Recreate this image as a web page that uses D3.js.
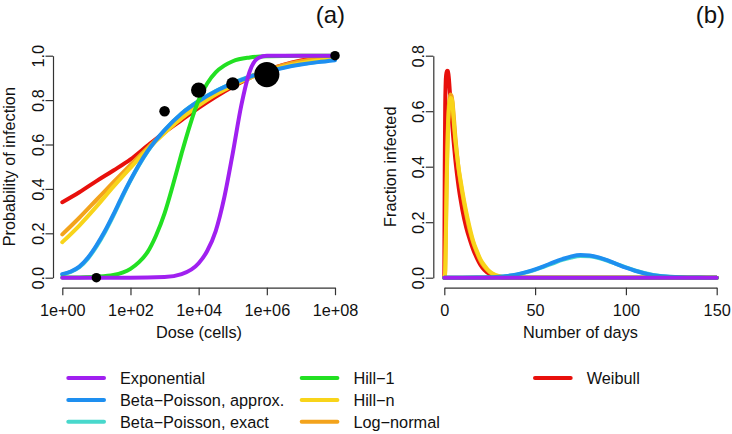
<!DOCTYPE html>
<html>
<head>
<meta charset="utf-8">
<script src="https://cdn.jsdelivr.net/npm/d3@7"></script>
<style>
  body { margin: 0; background: #fff; }
  svg { display: block; font-family: "Liberation Sans", Arial, sans-serif; }
</style>
</head>
<body>
<div id="chart"></div>
<script>
// ---- data, panel (a): probability of infection vs log10(dose) ----
var doseTicks = [1, 1e2, 1e4, 1e6, 1e8];
var doseTickLabels = ["1e+00", "1e+02", "1e+04", "1e+06", "1e+08"];
var probTicks = [0, 0.2, 0.4, 0.6, 0.8, 1.0];

var logDoseHalf = [0, 0.5, 1, 1.5, 2, 2.5, 3, 3.5, 4, 4.5, 5, 5.5, 6, 6.5, 7, 7.5, 8];
var weibullA = [0.34, 0.385, 0.435, 0.483, 0.533, 0.595, 0.655, 0.71, 0.765, 0.815, 0.86, 0.9, 0.935, 0.96, 0.978, 0.99, 0.995];
var lognormA = [0.195, 0.27, 0.35, 0.43, 0.508, 0.585, 0.655, 0.72, 0.778, 0.828, 0.87, 0.905, 0.935, 0.958, 0.975, 0.987, 0.993];
var hillnA = [0.16, 0.235, 0.32, 0.41, 0.495, 0.578, 0.652, 0.718, 0.775, 0.825, 0.865, 0.9, 0.928, 0.95, 0.966, 0.978, 0.986];

var logDoseBP = [0, 0.25, 0.5, 0.75, 1, 1.25, 1.5, 1.75, 2, 2.5, 3, 3.5, 4, 4.5, 5, 5.5, 6, 6.5, 7, 7.5, 8];
var bpApproxA = [0.016, 0.028, 0.05, 0.09, 0.145, 0.21, 0.285, 0.365, 0.44, 0.57, 0.665, 0.74, 0.795, 0.84, 0.875, 0.905, 0.928, 0.946, 0.96, 0.971, 0.98];
var bpExactA = [0.014, 0.026, 0.047, 0.086, 0.14, 0.205, 0.28, 0.36, 0.437, 0.568, 0.664, 0.74, 0.796, 0.841, 0.877, 0.907, 0.93, 0.948, 0.962, 0.973, 0.982];

var logDoseHill1 = [0, 0.5, 1, 1.5, 2, 2.25, 2.5, 2.75, 3, 3.25, 3.5, 3.75, 4, 4.25, 4.5, 4.75, 5, 5.5, 6, 7, 8];
var hill1A = [0.0005, 0.0012, 0.004, 0.012, 0.04, 0.07, 0.115, 0.19, 0.29, 0.42, 0.56, 0.69, 0.8, 0.875, 0.925, 0.955, 0.975, 0.992, 0.998, 1, 1];

var logDoseExp = [0, 1, 2, 3, 3.5, 4, 4.25, 4.5, 4.75, 5, 5.25, 5.5, 5.75, 6, 7, 8];
var exponentialA = [0, 0, 0, 0.003, 0.016, 0.065, 0.12, 0.21, 0.36, 0.56, 0.775, 0.93, 0.99, 1, 1, 1];

// observed points
var obsDose = [10, 1e3, 1e4, 1e5, 1e6, 1e8];
var obsProb = [0, 0.75, 0.845, 0.873, 0.915, 1.0];
var obsCex = [1.4, 1.55, 2.25, 1.95, 3.7, 1.4];

// ---- data, panel (b): fraction infected vs days ----
var dayTicks = [0, 50, 100, 150];
var fracTicks = [0, 0.2, 0.4, 0.6, 0.8];

var daysEarly = [0, 0.25, 0.5, 0.75, 1, 1.5, 2, 2.5, 3, 3.5, 4, 4.5, 5, 6, 7, 8, 9, 10, 12, 14, 16, 18, 20, 22, 25, 28, 32, 40, 150];
var weibullB = [0, 0.4, 0.62, 0.7, 0.73, 0.746, 0.745, 0.72, 0.675, 0.625, 0.58, 0.54, 0.5, 0.43, 0.372, 0.322, 0.28, 0.243, 0.183, 0.138, 0.1, 0.07, 0.045, 0.028, 0.013, 0.005, 0.001, 0, 0];
var lognormB = [0, 0.005, 0.03, 0.12, 0.23, 0.43, 0.55, 0.62, 0.65, 0.66, 0.655, 0.635, 0.6, 0.515, 0.445, 0.385, 0.34, 0.3, 0.23, 0.17, 0.125, 0.09, 0.06, 0.04, 0.02, 0.008, 0.002, 0, 0];
var hillnB = [0, 0.004, 0.02, 0.1, 0.2, 0.4, 0.53, 0.6, 0.635, 0.648, 0.645, 0.63, 0.58, 0.5, 0.44, 0.39, 0.35, 0.31, 0.24, 0.18, 0.13, 0.095, 0.065, 0.045, 0.022, 0.01, 0.003, 0, 0];

var daysLate = [0, 10, 20, 25, 30, 35, 40, 45, 50, 55, 60, 65, 70, 75, 80, 85, 90, 95, 100, 105, 110, 115, 120, 130, 140, 150];
var bpApproxB = [0, 0, 0.0005, 0.0015, 0.003, 0.0065, 0.012, 0.02, 0.03, 0.042, 0.055, 0.067, 0.077, 0.082, 0.08, 0.073, 0.062, 0.049, 0.036, 0.025, 0.016, 0.009, 0.005, 0.0013, 0.0003, 0];
var bpExactB = [0, 0, 0.0005, 0.0015, 0.003, 0.0062, 0.011, 0.019, 0.028, 0.04, 0.052, 0.064, 0.073, 0.078, 0.077, 0.071, 0.061, 0.049, 0.037, 0.026, 0.017, 0.01, 0.0055, 0.0015, 0.0004, 0];

var daysFlat = [0, 150];
var hill1B = [0, 0];
var exponentialB = [0, 0];

// ---- legend ----
var modelNames = ["Exponential", "Beta\u2212Poisson, approx.", "Beta\u2212Poisson, exact", "Hill\u22121", "Hill\u2212n", "Log\u2212normal", "Weibull"];
var modelColors = ["#a020f0", "#1e8ff0", "#48d8cc", "#22e022", "#f8d41a", "#f3a31c", "#e8100c"];

// -----------------------------------------------------------
var W = 732, H = 434;
var FS = 16.3;
var svg = d3.select("#chart").append("svg").attr("width", W).attr("height", H);

function styleAxis(g) {
    g.select(".domain").attr("stroke", "#333").attr("stroke-width", 1.2);
    g.selectAll(".tick line").attr("stroke", "#333").attr("stroke-width", 1.2);
    g.selectAll(".tick text").attr("fill", "#111").style("font-size", FS + "px")
        .style("font-family", "'Liberation Sans', Arial, sans-serif");
}

function bottomAxis(scale, ticks, fmt, yPos) {
    var g = svg.append("g").attr("transform", "translate(0," + yPos + ")")
        .call(d3.axisBottom(scale).tickValues(ticks).tickFormat(fmt).tickSize(7.5).tickSizeOuter(0));
    styleAxis(g);
    g.selectAll(".tick text").attr("y", 28.5).attr("dy", 0);
}

function leftAxis(scale, ticks, fmt, xPos) {
    var g = svg.append("g").attr("transform", "translate(" + xPos + ",0)")
        .call(d3.axisLeft(scale).tickValues(ticks).tickFormat(fmt).tickSize(7.5).tickSizeOuter(0));
    styleAxis(g);
    g.selectAll(".tick text")
        .attr("transform", "rotate(-90)")
        .attr("x", 0).attr("y", -9).attr("dy", 0)
        .attr("text-anchor", "middle");
}

function label(x, y, txt, size, rot, anchor) {
    svg.append("text")
        .attr("transform", "translate(" + x + "," + y + ")" + (rot ? " rotate(" + rot + ")" : ""))
        .attr("text-anchor", anchor || "middle")
        .attr("fill", "#111")
        .style("font-size", size + "px")
        .text(txt);
}

function drawLines(series, line) {
    series.forEach(function (s) {
        svg.append("path")
            .attr("d", line(d3.zip(s[0], s[1])))
            .attr("fill", "none")
            .attr("stroke", modelColors[s[2]])
            .attr("stroke-width", 4)
            .attr("stroke-linecap", "round")
            .attr("stroke-linejoin", "round");
    });
}

// ---- panel (a) ----
var xA = d3.scaleLog().domain([1, 1e8]).range([62.3, 335]);
var yA = d3.scaleLinear().domain([0, 1]).range([277.7, 55.7]);

bottomAxis(xA, doseTicks, function (d, i) { return doseTickLabels[i]; }, 287.7);
leftAxis(yA, probTicks, d3.format(".1f"), 53);
label(199, 337.5, "Dose (cells)", FS);
label(15, 166.7, "Probability of infection", FS, -90);
label(345, 23, "(a)", 24, 0, "end");

var lineA = d3.line()
    .x(function (d) { return xA(Math.pow(10, d[0])); })
    .y(function (d) { return yA(d[1]); })
    .curve(d3.curveMonotoneX);

drawLines([
    [logDoseBP, bpExactA, 2],
    [logDoseHalf, weibullA, 6],
    [logDoseHalf, lognormA, 5],
    [logDoseHalf, hillnA, 4],
    [logDoseBP, bpApproxA, 1],
    [logDoseHill1, hill1A, 3],
    [logDoseExp, exponentialA, 0]
], lineA);

svg.selectAll("circle.obs")
    .data(d3.range(obsDose.length))
    .enter().append("circle")
    .attr("class", "obs")
    .attr("cx", function (i) { return xA(obsDose[i]); })
    .attr("cy", function (i) { return yA(obsProb[i]); })
    .attr("r", function (i) { return obsCex[i] * 3.4; })
    .attr("fill", "#000");

// ---- panel (b) ----
var xB = d3.scaleLinear().domain([0, 150]).range([444.3, 716.7]);
var yB = d3.scaleLinear().domain([0, 0.8]).range([277.7, 55.7]);

bottomAxis(xB, dayTicks, d3.format("d"), 287.7);
leftAxis(yB, fracTicks, d3.format(".1f"), 433.3);
label(580.5, 337.5, "Number of days", FS);
label(396, 166.7, "Fraction infected", FS, -90);
label(725, 23, "(b)", 24, 0, "end");

var lineB = d3.line()
    .x(function (d) { return xB(d[0]); })
    .y(function (d) { return yB(d[1]); })
    .curve(d3.curveMonotoneX);

drawLines([
    [daysLate, bpExactB, 2],
    [daysEarly, weibullB, 6],
    [daysEarly, lognormB, 5],
    [daysEarly, hillnB, 4],
    [daysLate, bpApproxB, 1],
    [daysFlat, hill1B, 3],
    [daysFlat, exponentialB, 0]
], lineB);

// ---- legend (3 rows, filled by column) ----
var legX = [68.3, 301.7, 535];
var legY = [378, 400, 421.7];
var leg = svg.append("g");
modelNames.forEach(function (name, i) {
    var cx = legX[Math.floor(i / 3)], cy = legY[i % 3];
    leg.append("line")
        .attr("x1", cx).attr("x2", cx + 35.7)
        .attr("y1", cy).attr("y2", cy)
        .attr("stroke", modelColors[i])
        .attr("stroke-width", 4)
        .attr("stroke-linecap", "round");
    leg.append("text")
        .attr("x", cx + 51.7).attr("y", cy + 5.8)
        .attr("fill", "#111")
        .style("font-size", FS + "px")
        .text(name);
});
</script>
</body>
</html>
